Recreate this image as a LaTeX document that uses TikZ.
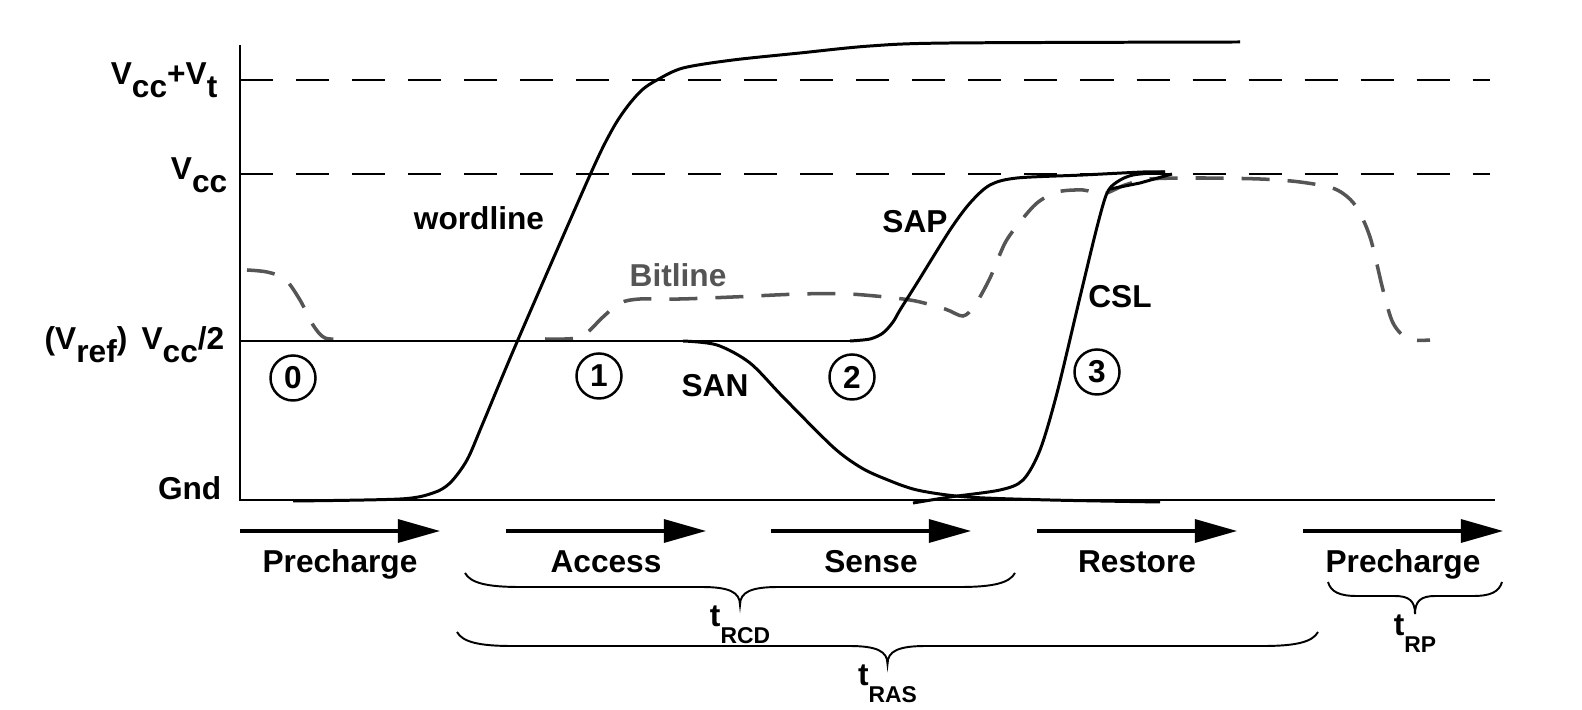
\documentclass[tikz,border=0pt]{standalone}
\usepackage{fontspec}
\setmainfont{Liberation Sans}
\usetikzlibrary{arrows.meta}

\definecolor{bitgray}{HTML}{555555}

\newcommand{\lo}[1]{\raisebox{-0.38em}{#1}}
\newcommand{\tsub}[1]{\raisebox{-4.8pt}{\fontsize{6.5}{7}\selectfont #1}}
\newcommand{\timebrace}[4]{%
  \pgfmathsetmacro\bend{min(55,(#2-#1)/6)}%
  \pgfmathsetmacro\bmid{(#1+#2)/2}%
  \draw[tbrace]
    (#1,#3) .. controls (#1+0.1*\bend,#3+10) and (#1+0.4*\bend,#3+14) .. (#1+\bend,#3+14)
    -- (\bmid-0.7*\bend,#3+14) .. controls (\bmid-0.2*\bend,#3+14) and (\bmid,#3+19) .. (\bmid,#3+32) coordinate (#4)
    .. controls (\bmid,#3+19) and (\bmid+0.2*\bend,#3+14) .. (\bmid+0.7*\bend,#3+14)
    -- (#2-\bend,#3+14) .. controls (#2-0.4*\bend,#3+14) and (#2-0.1*\bend,#3+10) .. (#2,#3);
}

\tikzset{
  signal/.style={line width=0.85pt, line join=round},
  vlevel/.style={line width=0.5pt, dash pattern=on 0.33cm off 0.23cm},
  bitline/.style={line width=1pt, color=bitgray, dash pattern=on 0.28cm off 0.18cm},
  phasearrow/.style={line width=0.9pt, -{Triangle[length=0.42cm,width=0.23cm]}},
  stagecircle/.style={circle, draw, line width=0.7pt, minimum size=0.45cm, inner sep=0pt},
  tbrace/.style={line width=0.55pt},
  lbl/.style={inner sep=0pt},
}

\begin{document}
\begin{tikzpicture}[x=0.01cm, y=-0.01cm, font=\fontsize{9}{11}\selectfont\bfseries]
  \useasboundingbox (0,0) rectangle (1582,710);

  \draw[vlevel] (240,80) -- (1490,80);
  \draw[vlevel] (240,174) -- (1490,174);

  \node[lbl, anchor=base east] (lvt) at (218,85) {V\lo{cc}+V\lo{t}};
  \node[lbl, anchor=base east] (lvcc) at (228,180) {V\lo{cc}};
  \node[lbl, anchor=base east] (lhalf) at (225,350) {(V\lo{ref})\hspace{0.45em}V\lo{cc}/2};
  \node[lbl, anchor=base east] (lgnd) at (222,500) {Gnd};

  % bitline
  \draw[bitline] plot[smooth, tension=0.5] coordinates {
    (247,270) (267,272) (285,279) (300,300) (313,325) (325,338) (345,339)};
  \draw[bitline] plot[smooth, tension=0.5] coordinates {
    (545,339) (565,339) (583,336) (603,317) (620,303) (640,299) (680,299) (733,297)
    (800,294) (850,294) (910,300) (945,309) (963,316) (975,305) (990,278)
    (1005,243) (1020,222) (1037,203) (1057,192) (1083,190) (1103,194)
    (1125,185) (1150,179) (1200,178) (1260,179) (1300,182) (1335,189)
    (1355,205) (1370,237) (1383,290) (1393,323) (1408,339) (1430,340)};

  \draw[line width=0.6pt] (240,45) -- (240,500) -- (1495,500);

  % wordline
  \draw[signal] plot[smooth, tension=0.5] coordinates {
    (293,501) (400,499) (433,493) (450,483) (467,460) (483,423) (517,342)
    (590,175) (612,130) (627,107) (642,90) (657,80) (683,68) (733,60)
    (800,53) (870,46) (950,43) (1240,42)};

  % Vcc/2, SAP and SAN
  \draw[signal] (240,341) -- (850,341);
  \draw[signal] plot[smooth, tension=0.5] coordinates {
    (850,341) (870,339) (883,333) (893,322) (900,310) (917,283) (950,230)
    (970,203) (990,185) (1017,178) (1083,175) (1143,172) (1165,172)};
  \draw[signal] plot[smooth, tension=0.5] coordinates {
    (683,341) (717,345) (750,363) (783,397) (833,447) (860,467) (883,478)
    (917,490) (967,497) (1050,500) (1160,502)};

  % CSL
  \draw[signal] plot[smooth, tension=0.5] coordinates {
    (913,503) (950,497) (1000,490) (1023,480) (1040,450) (1057,393)
    (1080,297) (1097,227) (1107,193) (1117,182) (1133,175) (1165,172)};
  \draw[signal] (1110,189) -- (1140,183) -- (1172,174);

  \foreach \n/\x/\y in {0/293/378, 1/599/376, 2/852/377, 3/1097/372}
    \node[stagecircle] (st\n) at (\x,\y) {\n};

  \node[lbl, anchor=base] (wl) at (479,230) {wordline};
  \node[lbl, anchor=base, text=bitgray] (bl) at (678,287) {Bitline};
  \node[lbl, anchor=base] (san) at (715,397) {SAN};
  \node[lbl, anchor=base] (sap) at (915,233) {SAP};
  \node[lbl, anchor=base] (csl) at (1120,308) {CSL};

  \foreach \x/\ph [count=\i] in {240/Precharge, 506/Access, 771/Sense, 1037/Restore, 1303/Precharge} {
    \draw[phasearrow] (\x,531) -- ++(200,0);
    \node[lbl, anchor=base] (ph\i) at (\x+100,573) {\ph};
  }

  \timebrace{465}{1015}{573}{rcd}
  \node[lbl, anchor=north] (trcd) at (rcd) {t\tsub{RCD}};
  \timebrace{457}{1318}{632}{ras}
  \node[lbl, anchor=north] (tras) at (ras) {t\tsub{RAS}};
  \timebrace{1328}{1502}{582}{rp}
  \node[lbl, anchor=north] (trp) at (rp) {t\tsub{RP}};
\end{tikzpicture}
\end{document}
